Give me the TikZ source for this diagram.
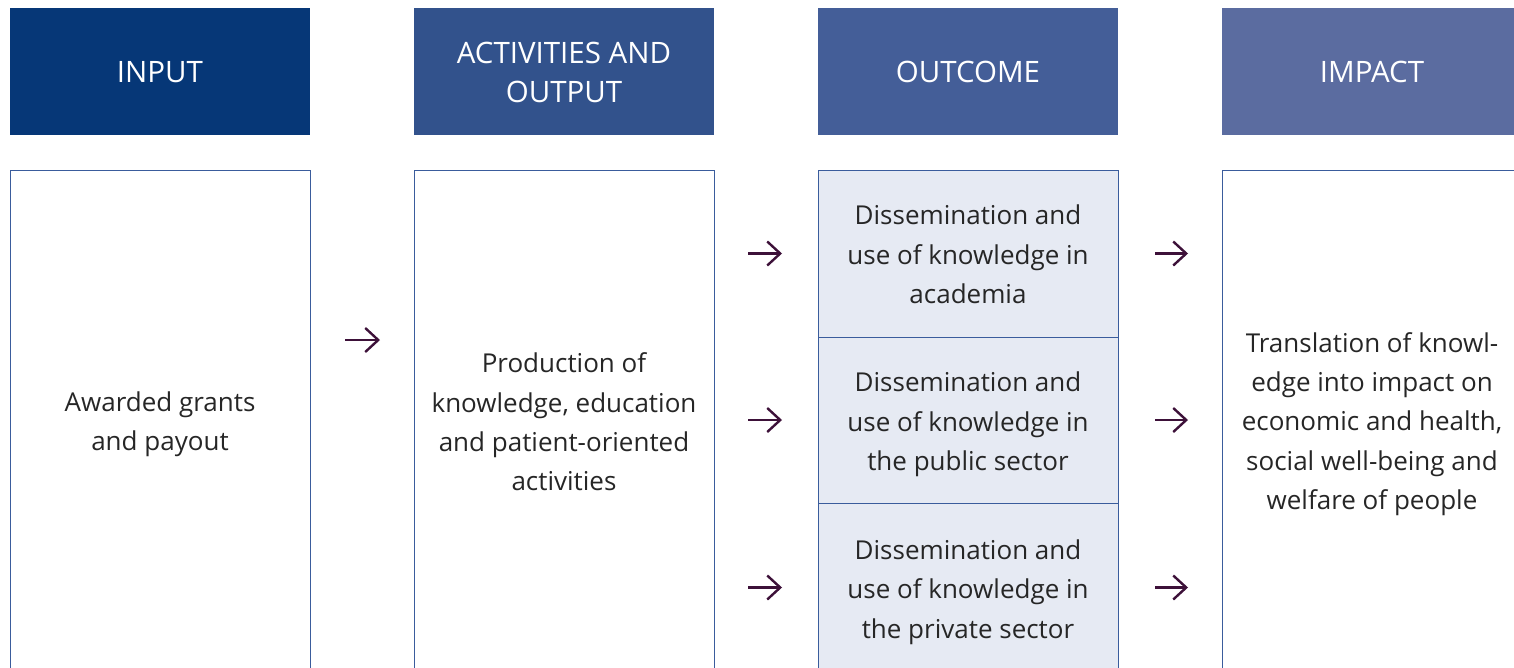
\documentclass[tikz,border=0pt]{standalone}
\usepackage{fontspec}
\setmainfont{Open Sans}
\usetikzlibrary{arrows.meta,positioning}
\definecolor{inputblue}{HTML}{063777}
\definecolor{activityblue}{HTML}{32528C}
\definecolor{outcomeblue}{HTML}{445E98}
\definecolor{impactblue}{HTML}{5B6CA0}
\definecolor{paleblue}{HTML}{E6EAF3}
\definecolor{boxline}{HTML}{3A5C9C}
\definecolor{textgray}{HTML}{262626}
\definecolor{arrowplum}{HTML}{3D1139}
\newcommand{\lift}[1]{\rule{0pt}{#1}}

\begin{document}
\begin{tikzpicture}[x=1pt, y=-1pt,
        every node/.append style={align=center},
        flow/.style={-{Straight Barb[length=13pt,width=24pt]}, line width=2.4pt, color=arrowplum}]
      \tikzstyle{head} = [anchor=north west, minimum width=300pt, minimum height=127pt, inner sep=0pt, outer sep=0pt, text=white, font=\fontsize{29.5}{39}\selectfont]
      \tikzstyle{body} = [anchor=north west, draw=boxline, line width=1pt, minimum width=300pt, minimum height=502pt, inner sep=0pt, outer sep=0pt, text=textgray, font=\fontsize{26}{39.4}\selectfont]
      \useasboundingbox (0,0) rectangle (1514,667);
      \clip (0,0) rectangle (1514,667);
      % column heads
      \node (input) [head, fill=inputblue] at (10,8) {\lift{23pt}INPUT};
      \node (activities) [head, fill=activityblue] at (414,8) {\lift{23pt}ACTIVITIES AND\\OUTPUT};
      \node (outcome) [head, fill=outcomeblue] at (818,8) {\lift{23pt}OUTCOME};
      \node (impact) [head, fill=impactblue] at (1222,8) {\lift{23pt}IMPACT};
      % column bodies
      \node (grants) [body] at (10,170) {\lift{26pt}Awarded grants\\and payout};
      \node (production) [body] at (414,170) {\lift{22pt}Production of\\knowledge, education\\and patient-oriented\\activities};
      \node (academia) [body, fill=paleblue, minimum height=167pt] at (818,170) {\lift{22pt}Dissemination and\\use of knowledge in\\academia};
      \node (public) [body, fill=paleblue, minimum height=166pt, below=0pt of academia] {\lift{29pt}Dissemination and\\use of knowledge in\\the public sector};
      \node (private) [body, fill=paleblue, minimum height=169pt, below=0pt of public] {\lift{29pt}Dissemination and\\use of knowledge in\\the private sector};
      \node (translation) [body] at (1222,170) {\lift{26pt}Translation of knowl-\\edge into impact on\\economic and health,\\social well-being and\\welfare of people};
      % arrows
      \coordinate (fundsrow) at (0,340);
      \draw[flow, shorten <=35pt, shorten >=34pt] (grants.east |- fundsrow) -- (production.west |- fundsrow);
      \foreach \stage in {academia,public,private} {
        \draw[flow, shorten <=34pt, shorten >=36pt] (production.east |- \stage) -- (\stage.west);
        \draw[flow, shorten <=37pt, shorten >=34pt] (\stage.east) -- (translation.west |- \stage);
      }
\end{tikzpicture}
\end{document}
